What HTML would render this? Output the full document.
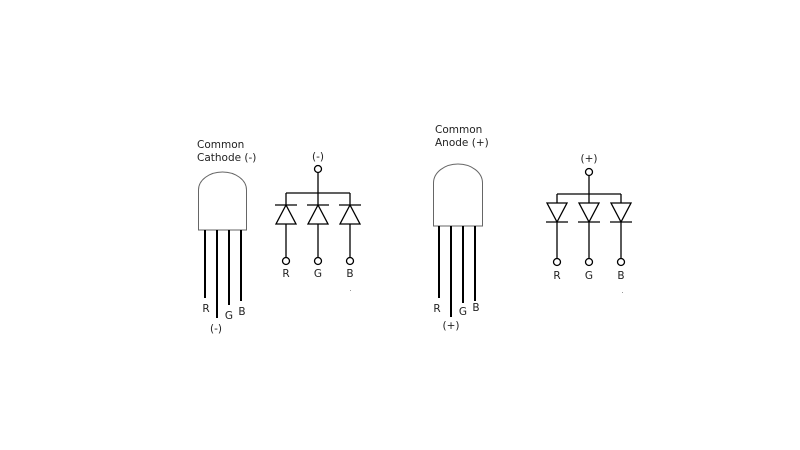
<!DOCTYPE html>
<html><head><style>html,body{margin:0;padding:0;background:#fff;width:800px;height:450px;overflow:hidden}</style></head>
<body>
<svg width="800" height="450" viewBox="0 0 800 450" xmlns="http://www.w3.org/2000/svg" font-family="'DejaVu Sans','Liberation Sans',sans-serif" font-size="10.5" fill="#222">
<g stroke="#000" stroke-width="1.3" fill="none">
<path d="M198.5,230 V190 A24,18 0 0 1 246.5,190 V230 Z" stroke="#666" stroke-width="1"/>
<line x1="205" y1="230" x2="205" y2="298" stroke-width="2"/>
<line x1="217" y1="230" x2="217" y2="318" stroke-width="2"/>
<line x1="229" y1="230" x2="229" y2="305" stroke-width="2"/>
<line x1="241" y1="230" x2="241" y2="301" stroke-width="2"/>
<circle cx="318" cy="169" r="3.5"/>
<line x1="318" y1="172.5" x2="318" y2="193"/>
<line x1="286" y1="193" x2="350" y2="193"/>
<g id="d1">
<line x1="286" y1="193" x2="286" y2="205"/>
<line x1="275" y1="205" x2="297" y2="205"/>
<path d="M286,205 L276,224 H296 Z"/>
<line x1="286" y1="224" x2="286" y2="257.5"/>
<circle cx="286" cy="261" r="3.5"/>
</g>
<use href="#d1" x="32"/>
<use href="#d1" x="64"/>
<path d="M433.5,226 V183 A24.5,19 0 0 1 482.5,183 V226 Z" stroke="#666" stroke-width="1"/>
<line x1="439" y1="226" x2="439" y2="298" stroke-width="2"/>
<line x1="451" y1="226" x2="451" y2="317" stroke-width="2"/>
<line x1="463" y1="226" x2="463" y2="303" stroke-width="2"/>
<line x1="475" y1="226" x2="475" y2="301" stroke-width="2"/>
<circle cx="589" cy="172" r="3.5"/>
<line x1="589" y1="175.5" x2="589" y2="194"/>
<line x1="557" y1="194" x2="621" y2="194"/>
<g id="d2">
<line x1="557" y1="194" x2="557" y2="203"/>
<path d="M547,203 H567 L557,222 Z"/>
<line x1="546" y1="222" x2="568" y2="222"/>
<line x1="557" y1="222" x2="557" y2="258.5"/>
<circle cx="557" cy="262" r="3.5"/>
</g>
<use href="#d2" x="32"/>
<use href="#d2" x="64"/>
</g>
<text x="197" y="148">Common</text>
<text x="197" y="161">Cathode (-)</text>
<text x="318" y="160" text-anchor="middle">(-)</text>
<text x="286" y="277" text-anchor="middle">R</text>
<text x="318" y="277" text-anchor="middle">G</text>
<text x="350" y="277" text-anchor="middle">B</text>
<text x="206" y="312" text-anchor="middle">R</text>
<text x="216" y="332" text-anchor="middle">(-)</text>
<text x="229" y="319" text-anchor="middle">G</text>
<text x="242" y="315" text-anchor="middle">B</text>
<rect x="350" y="290" width="1" height="1" fill="#999"/>
<text x="435" y="133">Common</text>
<text x="435" y="146">Anode (+)</text>
<text x="589" y="162" text-anchor="middle">(+)</text>
<text x="557" y="279" text-anchor="middle">R</text>
<text x="589" y="279" text-anchor="middle">G</text>
<text x="621" y="279" text-anchor="middle">B</text>
<text x="437" y="312" text-anchor="middle">R</text>
<text x="451" y="329" text-anchor="middle">(+)</text>
<text x="463" y="315" text-anchor="middle">G</text>
<text x="476" y="311" text-anchor="middle">B</text>
<rect x="622" y="292" width="1" height="1" fill="#999"/>
</svg>
</body></html>
